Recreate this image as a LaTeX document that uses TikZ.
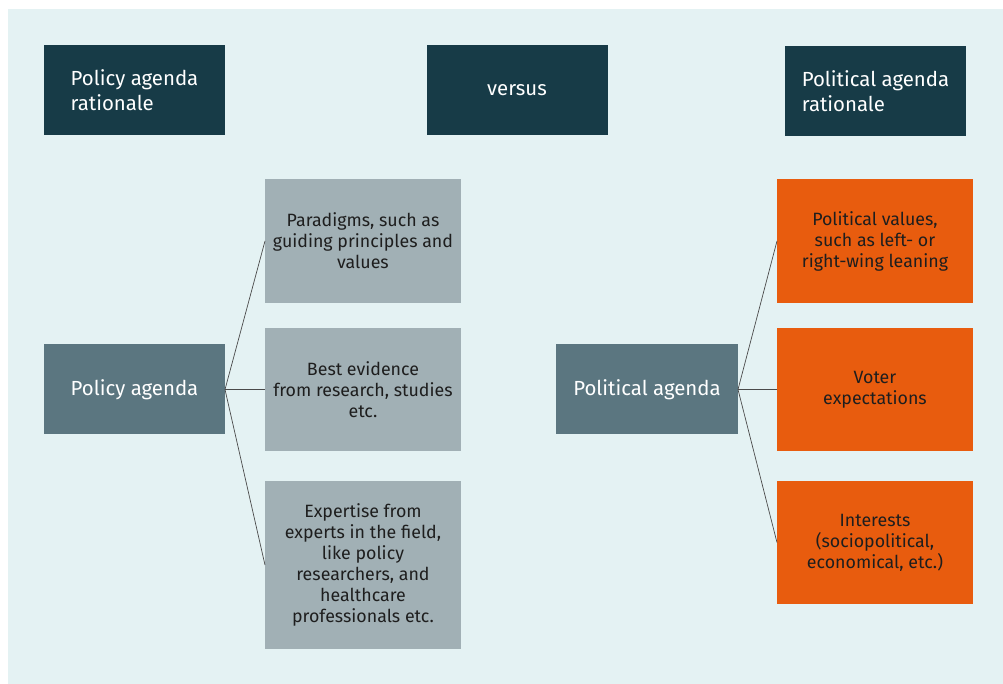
\documentclass[tikz,border=0pt]{standalone}
\usepackage{fontspec}
\setmainfont{Fira Sans}
\definecolor{panelbg}{HTML}{E4F2F3}
\definecolor{headdark}{HTML}{173B47}
\definecolor{agendaslate}{HTML}{5B7680}
\definecolor{policygrey}{HTML}{A1B0B5}
\definecolor{politorange}{HTML}{E85C0E}
\definecolor{inkdark}{HTML}{1E1E1E}
\definecolor{linkgrey}{HTML}{4A4A4A}

\begin{document}
\begin{tikzpicture}[x=0.5pt, y=-0.5pt,
    every node/.style={inner sep=0pt, outer sep=0pt},
    box/.style={rectangle, minimum width=196pt*0.5, minimum height=123pt*0.5, align=center, font=\fontsize{8.9}{10.5}\selectfont, text=inkdark},
    headbox/.style={rectangle, fill=headdark, text=white, minimum width=181pt*0.5, minimum height=90pt*0.5, font=\fontsize{10.2}{12.5}\selectfont},
    greybox/.style={box, fill=policygrey},
    orangebox/.style={box, fill=politorange},
    agendabox/.style={rectangle, fill=agendaslate, text=white, minimum width=181pt*0.5, minimum height=90pt*0.5, font=\fontsize{10.2}{12.5}\selectfont},
    link/.style={draw=linkgrey, line width=0.35pt}]
  \useasboundingbox (0,0) rectangle (1003,684);
  \fill[panelbg] (8,9) rectangle (1003,684);

  % header row
  \node[headbox, align=left] (prat) at (134.5,90.5) {Policy agenda\\rationale};
  \node[headbox, align=center] (vers) at (517,90.5) {versus};
  \node[headbox, align=left] (polrat) at (875.5,91.5) {Political agenda\\rationale};

  % policy side
  \node[agendabox] (pol) at (134.5,389.5) {Policy agenda};
  \node[greybox, minimum height=124pt*0.5] (para) at (363,241) {Paradigms, such as\\guiding principles and\\values};
  \node[greybox] (evid) at (363,389.5) {Best evidence\\from research, studies\\etc.};
  \node[greybox, minimum height=168pt*0.5] (expe) at (363,565) {Expertise from\\experts in the field,\\like policy\\researchers, and\\healthcare\\professionals etc.};

  % political side
  \node[agendabox, minimum width=182pt*0.5] (polit) at (647,389.5) {Political agenda};
  \node[orangebox, minimum height=124pt*0.5] (vals) at (875,241) {Political values,\\such as left- or\\right-wing leaning};
  \node[orangebox] (voter) at (875,389.5) {Voter\\expectations};
  \node[orangebox] (inter) at (875,542.5) {Interests\\(sociopolitical,\\economical, etc.)};

  \foreach \t in {para,evid,expe}
    \draw[link] (pol.east) -- (\t.west);
  \foreach \t in {vals,voter,inter}
    \draw[link] (polit.east) -- (\t.west);
\end{tikzpicture}
\end{document}
